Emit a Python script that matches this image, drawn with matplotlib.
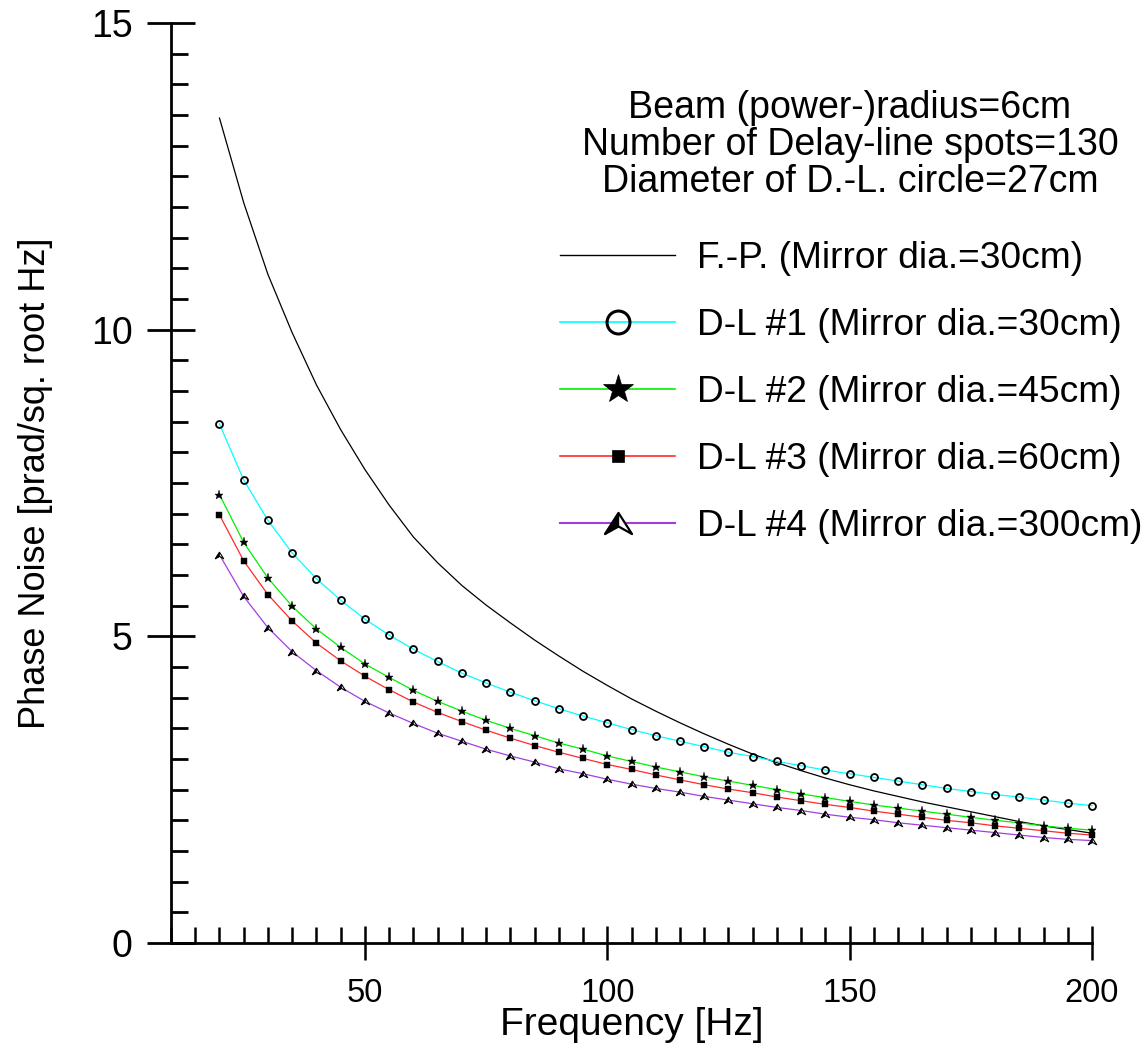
import matplotlib
matplotlib.use("Agg")
import matplotlib.pyplot as plt
from matplotlib.path import Path
from matplotlib.lines import Line2D
from matplotlib.legend_handler import HandlerTuple
from matplotlib.ticker import MultipleLocator, FixedLocator

plt.rcParams['font.family'] = ['Liberation Sans', 'DejaVu Sans']

freq = [20, 25, 30, 35, 40, 45, 50, 55, 60, 65, 70, 75, 80, 85, 90, 95, 100,
        105, 110, 115, 120, 125, 130, 135, 140, 145, 150, 155, 160, 165, 170,
        175, 180, 185, 190, 195, 200]

fp = [13.45, 12.07, 10.90, 9.95, 9.10, 8.37, 7.72, 7.14, 6.62, 6.20, 5.83, 5.51,
      5.22, 4.94, 4.68, 4.43, 4.20, 3.98, 3.78, 3.59, 3.41, 3.24, 3.08, 2.94,
      2.81, 2.69, 2.58, 2.48, 2.39, 2.30, 2.22, 2.14, 2.06, 1.98, 1.91, 1.85, 1.79]

dl1 = [8.46, 7.55, 6.89, 6.36, 5.94, 5.59, 5.28, 5.02, 4.79, 4.59, 4.40, 4.24,
       4.09, 3.95, 3.82, 3.70, 3.59, 3.48, 3.38, 3.29, 3.20, 3.11, 3.04, 2.96,
       2.89, 2.82, 2.76, 2.70, 2.64, 2.58, 2.52, 2.47, 2.42, 2.38, 2.33, 2.28, 2.24]

dl2 = [7.31, 6.53, 5.95, 5.49, 5.12, 4.82, 4.55, 4.33, 4.12, 3.94, 3.78, 3.63,
       3.50, 3.38, 3.26, 3.16, 3.05, 2.96, 2.87, 2.79, 2.71, 2.64, 2.57, 2.50,
       2.43, 2.37, 2.31, 2.25, 2.20, 2.15, 2.10, 2.05, 2.00, 1.96, 1.91, 1.87, 1.84]

dl3 = [6.98, 6.23, 5.68, 5.25, 4.89, 4.60, 4.35, 4.13, 3.93, 3.76, 3.61, 3.47,
       3.34, 3.22, 3.11, 3.01, 2.91, 2.83, 2.74, 2.66, 2.58, 2.51, 2.45, 2.38,
       2.32, 2.26, 2.21, 2.15, 2.10, 2.05, 2.00, 1.96, 1.91, 1.87, 1.83, 1.79, 1.76]

dl4 = [6.33, 5.65, 5.14, 4.75, 4.44, 4.17, 3.94, 3.75, 3.58, 3.42, 3.29, 3.16,
       3.05, 2.95, 2.84, 2.76, 2.67, 2.59, 2.52, 2.46, 2.39, 2.33, 2.27, 2.21,
       2.16, 2.10, 2.05, 2.01, 1.96, 1.92, 1.88, 1.84, 1.80, 1.76, 1.72, 1.69, 1.67]

labels = ["F.-P. (Mirror dia.=30cm)",
          "D-L #1 (Mirror dia.=30cm)",
          "D-L #2 (Mirror dia.=45cm)",
          "D-L #3 (Mirror dia.=60cm)",
          "D-L #4 (Mirror dia.=300cm)"]
info_lines = ["Beam (power-)radius=6cm",
              "Number of Delay-line spots=130",
              "Diameter of D.-L. circle=27cm"]

c_cyan = '#00ffff'
c_green = '#00f000'
c_red = '#ff2a2a'
c_purple = '#a23ee0'

# arrowhead marker (outline and filled left half)
arrow_full = Path([(0, 0.78), (-1, -0.78), (0, -0.22), (1, -0.78), (0, 0.78)],
                  [Path.MOVETO, Path.LINETO, Path.LINETO, Path.LINETO, Path.CLOSEPOLY])
arrow_left = Path([(0, 0.78), (-1, -0.78), (0, -0.22), (0, 0.78)],
                  [Path.MOVETO, Path.LINETO, Path.LINETO, Path.CLOSEPOLY])

fig = plt.figure(figsize=(11.45, 10.52), dpi=100)
ax = fig.add_axes([171/1145, 1 - 943/1052, (1092-171)/1145, (943-23)/1052])

lw = 0.9
ax.plot(freq, fp, color='black', lw=lw, clip_on=False, zorder=3)
ax.plot(freq, dl1, color=c_cyan, lw=lw, marker='o', ms=5, mfc='none',
        mec='black', mew=1.3, clip_on=False, zorder=4)
ax.plot(freq, dl2, color=c_green, lw=lw, marker='*', ms=6.5, mfc='black',
        mec='black', mew=0.3, clip_on=False, zorder=4)
ax.plot(freq, dl3, color=c_red, lw=lw, marker='s', ms=3.8, mfc='black',
        mec='black', mew=0.3, clip_on=False, zorder=4)
ax.plot(freq, dl4, color=c_purple, lw=lw, marker=arrow_full, ms=6, mfc='white',
        mec='black', mew=0.8, clip_on=False, zorder=4)
ax.plot(freq, dl4, ls='none', marker=arrow_left, ms=6, mfc='black',
        mec='black', mew=0.5, clip_on=False, zorder=5)

ax.set_xlim(10, 200)
ax.set_ylim(0, 15)
for s in ['top', 'right']:
    ax.spines[s].set_visible(False)
for s in ['left', 'bottom']:
    ax.spines[s].set_linewidth(2.0)

ax.xaxis.set_major_locator(FixedLocator([50, 100, 150, 200]))
ax.xaxis.set_minor_locator(MultipleLocator(5))
ax.yaxis.set_major_locator(MultipleLocator(5))
ax.yaxis.set_minor_locator(MultipleLocator(0.5))

ax.tick_params(axis='y', which='major', direction='inout', length=35, width=2.0,
               labelsize=27, pad=10)
ax.tick_params(axis='y', which='minor', direction='in', length=12, width=2.0)
ax.tick_params(axis='x', which='major', direction='inout', length=24, width=1.8,
               labelsize=23.5, pad=13)
ax.tick_params(axis='x', which='minor', direction='in', length=11.5, width=1.8)

ax.set_xlabel("Frequency [Hz]", fontsize=28)
ax.set_ylabel("Phase Noise [prad/sq. root Hz]", fontsize=26)
ax.xaxis.set_label_coords(0.5, -0.070)
ax.yaxis.set_label_coords(-0.128, 0.5)

# legend
h0 = Line2D([], [], color='black', lw=1.0)
h1 = Line2D([], [], color=c_cyan, lw=1.2, marker='o', ms=16.5, mfc='none',
            mec='black', mew=2.2)
h2 = Line2D([], [], color=c_green, lw=1.2, marker='*', ms=22, mfc='black',
            mec='black', mew=0.5)
h3 = Line2D([], [], color=c_red, lw=1.2, marker='s', ms=8, mfc='black',
            mec='black', mew=0.5)
h4a = Line2D([], [], color=c_purple, lw=1.5, marker=arrow_full, ms=19.5,
             mfc='white', mec='black', mew=1.6)
h4b = Line2D([], [], ls='none', marker=arrow_left, ms=19.5, mfc='black',
             mec='black', mew=1.0)

leg_fs = 26.7
leg = ax.legend([h0, h1, h2, h3, (h4a, h4b)], labels,
                handler_map={tuple: HandlerTuple(ndivide=1, pad=0)},
                loc='upper left', bbox_to_anchor=(560/1145, 1 - 241/1052),
                bbox_transform=fig.transFigure, frameon=False, fontsize=leg_fs,
                handlelength=115/(leg_fs*100/72), handletextpad=22/(leg_fs*100/72),
                labelspacing=0.86, borderpad=0, borderaxespad=0)

ys = [108, 145, 182]
for t, yy in zip(info_lines, ys):
    fig.text(850/1145, 1 - yy/1052, t, ha='center', va='center', fontsize=27)

fig.savefig("out.png", dpi=100)
